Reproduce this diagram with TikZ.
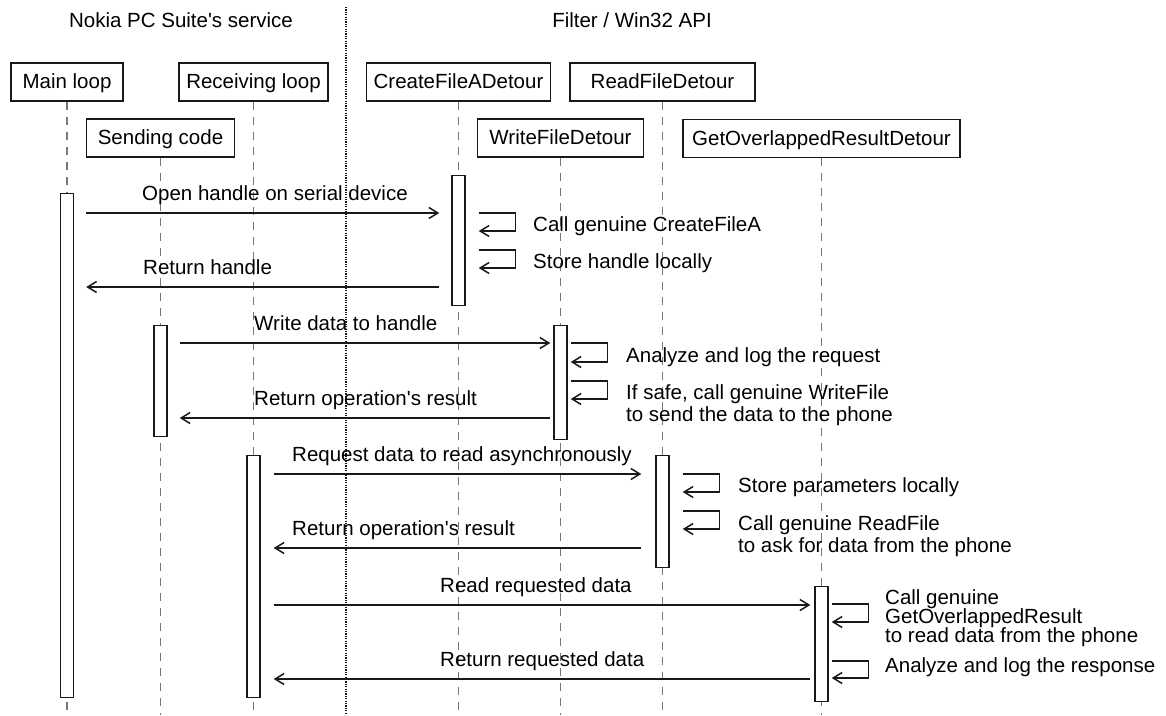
\documentclass[tikz,border=0pt]{standalone}
\usepackage{fontspec}
\setmainfont{Liberation Sans}[Ligatures=TeXOff]
\usetikzlibrary{arrows.meta,calc}
\definecolor{lifegray}{RGB}{120,120,120}
\definecolor{ink}{RGB}{25,25,25}
\begin{document}
\begin{tikzpicture}[x=1pt,y=-1pt,
  font=\fontsize{20.5}{24}\selectfont,
  box/.style={draw=ink, line width=1.5pt, inner sep=0pt, text height=13pt, text depth=0pt, fill=white, minimum height=38pt},
  bar/.style={draw=ink, line width=1.4pt, fill=white, inner sep=0pt, minimum width=13pt, anchor=north},
  life/.style={draw=lifegray, line width=1.2pt, dash pattern=on 8pt off 7pt},
  sep/.style={draw=ink, line width=1.3pt, dash pattern=on 1.2pt off 1.2pt},
  msg/.style={draw=ink, line width=1.5pt, -{Straight Barb[length=9pt,width=11pt,line width=1.5pt]}},
  lbl/.style={anchor=base west, inner sep=0pt, text=black}]
\useasboundingbox (0,0) rectangle (1166,715);

% titles
\node[anchor=base, inner sep=0pt] (t1) at (181,27) {Nokia PC Suite's service};
\node[anchor=base, inner sep=0pt] (t2) at (632,27) {Filter / Win32 API};
\coordinate (septop) at (346,7);
\coordinate (sepbot) at (346,715);
\draw[sep] (septop) -- (sepbot);

% participants
\node[box, minimum width=112pt] (main) at (67,82) {Main loop};
\node[box, minimum width=149pt] (recv) at (253.5,82) {Receiving loop};
\node[box, minimum width=184pt] (cfa) at (458.5,82) {CreateFileADetour};
\node[box, minimum width=185pt] (rfd) at (662.5,82) {ReadFileDetour};
\node[box, minimum width=148pt] (send) at (160.5,138) {Sending code};
\node[box, minimum width=166pt] (wfd) at (560.5,138) {WriteFileDetour};
\node[box, minimum width=277pt] (gor) at (821.5,138.5) {GetOverlappedResultDetour};

% lifelines
\foreach \p in {main,recv,cfa,rfd,send,wfd,gor}{
  \draw[life] (\p.south) -- (\p.south |- sepbot);
}

% activation bars
\node[bar, minimum height=504pt] (mainbar) at (main.south |- 0,193) {};
\node[bar, minimum height=130pt] (cfabar) at (cfa.south |- 0,175) {};
\node[bar, minimum height=111pt] (sendbar) at (send.south |- 0,325) {};
\node[bar, minimum height=114pt] (wfdbar) at (wfd.south |- 0,325) {};
\node[bar, minimum height=242pt] (recvbar) at (recv.south |- 0,455) {};
\node[bar, minimum height=112pt] (rfdbar) at (rfd.south |- 0,455) {};
\node[bar, minimum height=115pt] (gorbar) at (gor.south |- 0,586) {};

% 1 open handle
\draw[msg] ($(mainbar.east |- 0,213)+(12,0)$) -- ($(cfabar.west |- 0,213)+(-12,0)$);
\node[lbl] (l1) at (142,200) {Open handle on serial device};
\draw[msg] ($(cfabar.east |- 0,213)+(13,0)$) -- ++(37,0) -- ++(0,18) -- ++(-37,0);
\node[lbl] (l1a) at (533,231) {Call genuine CreateFileA};
\draw[msg] ($(cfabar.east |- 0,250)+(13,0)$) -- ++(37,0) -- ++(0,18) -- ++(-37,0);
\node[lbl] (l1b) at (533,268) {Store handle locally};
% 2 return handle
\draw[msg] ($(cfabar.west |- 0,287)+(-12,0)$) -- ($(mainbar.east |- 0,287)+(12,0)$);
\node[lbl] (l2) at (143,274) {Return handle};

% 3 write data
\draw[msg] ($(sendbar.east |- 0,343)+(12,0)$) -- ($(wfdbar.west |- 0,343)+(-3,0)$);
\node[lbl] (l3) at (254,330) {Write data to handle};
\draw[msg] ($(wfdbar.east |- 0,343)+(3,0)$) -- ++(37,0) -- ++(0,19) -- ++(-37,0);
\node[lbl] (l3a) at (626,362) {Analyze and log the request};
\draw[msg] ($(wfdbar.east |- 0,381)+(3,0)$) -- ++(37,0) -- ++(0,18) -- ++(-37,0);
\node[lbl] (l3b) at (626,399) {If safe, call genuine WriteFile};
\node[lbl] (l3c) at (626,421) {to send the data to the phone};
% 4 return result
\draw[msg] ($(wfdbar.west |- 0,418)+(-3,0)$) -- ($(sendbar.east |- 0,418)+(12,0)$);
\node[lbl] (l4) at (254,405) {Return operation's result};

% 5 request data
\draw[msg] ($(recvbar.east |- 0,474)+(13,0)$) -- ($(rfdbar.west |- 0,474)+(-14,0)$);
\node[lbl] (l5) at (292,461) {Request data to read asynchronously};
\draw[msg] ($(rfdbar.east |- 0,474)+(13,0)$) -- ++(37,0) -- ++(0,18) -- ++(-37,0);
\node[lbl] (l5a) at (738,492) {Store parameters locally};
\draw[msg] ($(rfdbar.east |- 0,511)+(13,0)$) -- ++(37,0) -- ++(0,18) -- ++(-37,0);
\node[lbl] (l5b) at (738,530) {Call genuine ReadFile};
\node[lbl] (l5c) at (738,552) {to ask for data from the phone};
% 6 return result
\draw[msg] ($(rfdbar.west |- 0,548)+(-14,0)$) -- ($(recvbar.east |- 0,548)+(13,0)$);
\node[lbl] (l6) at (292,535) {Return operation's result};

% 7 read requested data
\draw[msg] ($(recvbar.east |- 0,605)+(13,0)$) -- ($(gorbar.west |- 0,605)+(-4,0)$);
\node[lbl] (l7) at (440,592) {Read requested data};
\draw[msg] ($(gorbar.east |- 0,604)+(3,0)$) -- ++(37,0) -- ++(0,18) -- ++(-37,0);
\node[lbl] (l7a) at (885,604) {Call genuine};
\node[lbl] (l7b) at (885,623) {GetOverlappedResult};
\node[lbl] (l7c) at (885,642) {to read data from the phone};
\draw[msg] ($(gorbar.east |- 0,661)+(3,0)$) -- ++(37,0) -- ++(0,17) -- ++(-37,0);
\node[lbl] (l7d) at (885,672) {Analyze and log the response};
% 8 return requested data
\draw[msg] ($(gorbar.west |- 0,679)+(-4,0)$) -- ($(recvbar.east |- 0,679)+(13,0)$);
\node[lbl] (l8) at (440,666) {Return requested data};
\end{tikzpicture}
\end{document}
